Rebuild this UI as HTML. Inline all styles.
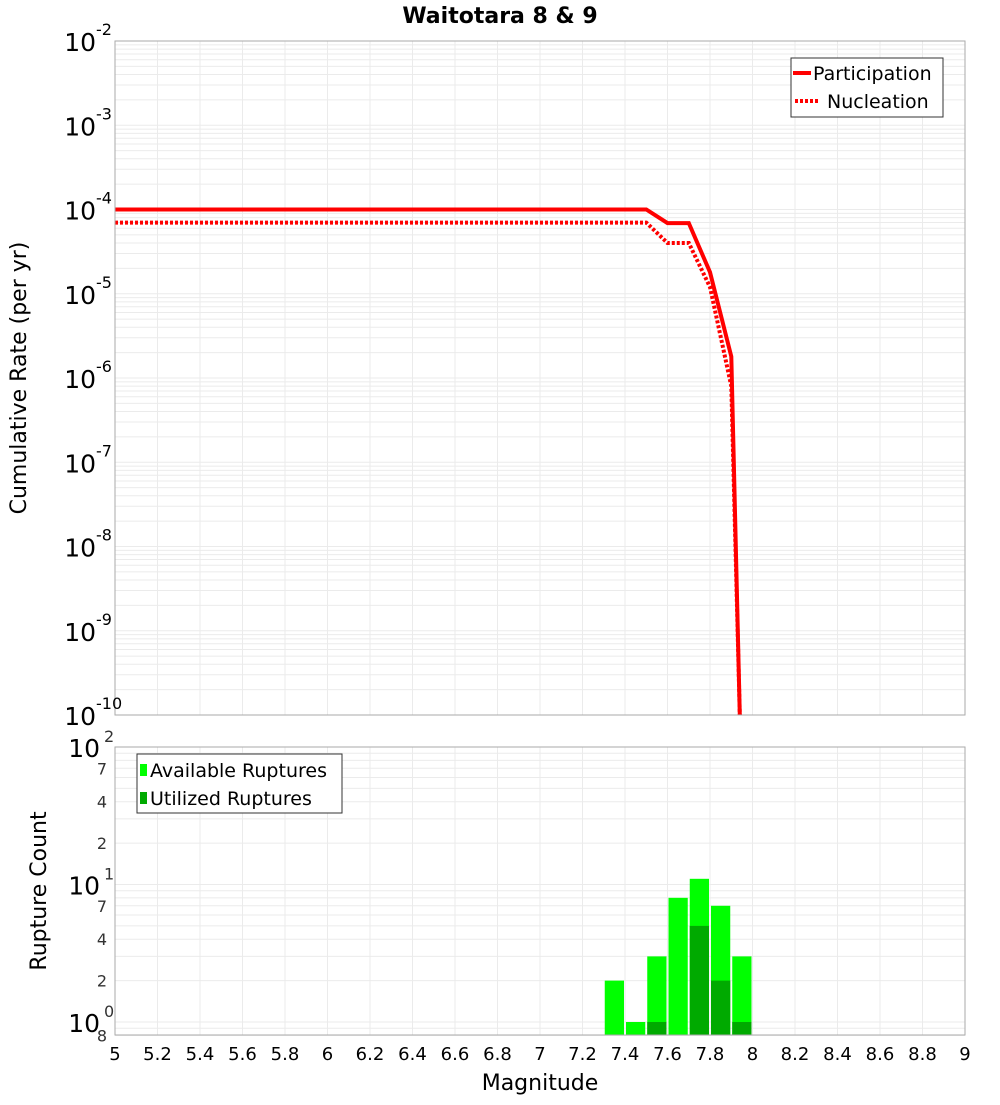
<!DOCTYPE html>
<html><head><meta charset="utf-8"><style>
body{margin:0;background:#fff;}
svg text{font-family:"DejaVu Sans","Liberation Sans",sans-serif;}
</style></head><body>
<svg id="chart" width="1000" height="1100" xmlns="http://www.w3.org/2000/svg">
<rect width="1000" height="1100" fill="#fff"/>
<text x="500" y="23" text-anchor="middle" font-size="22" font-weight="bold">Waitotara 8 &amp; 9</text>
<g id="top-grid"></g><g id="bot-grid"></g>
<g id="top-series"></g><g id="bars"></g>
<rect x="115" y="41" width="850" height="674" fill="none" stroke="#aaa"/>
<rect x="115" y="747" width="850" height="288" fill="none" stroke="#aaa"/>
<g id="labels"></g>
<text transform="translate(26,378) rotate(-90)" text-anchor="middle" font-size="22">Cumulative Rate (per yr)</text>
<text transform="translate(46,891) rotate(-90)" text-anchor="middle" font-size="22">Rupture Count</text>
<text x="540" y="1090" text-anchor="middle" font-size="22">Magnitude</text>
<g>
<rect x="791" y="58" width="152" height="59" fill="#fff" stroke="#333"/>
<line x1="793" y1="73" x2="811" y2="73" stroke="red" stroke-width="4"/>
<text x="813" y="80" font-size="19">Participation</text>
<line x1="795" y1="101" x2="820" y2="101" stroke="red" stroke-width="4" stroke-dasharray="3,2"/>
<text x="827" y="108" font-size="19">Nucleation</text>
</g>
<g>
<rect x="137" y="754" width="205" height="59" fill="#fff" stroke="#333"/>
<rect x="140" y="764" width="7" height="12" fill="#00ff00"/>
<text x="150" y="777" font-size="19">Available Ruptures</text>
<rect x="140" y="792" width="7" height="12" fill="#00aa00"/>
<text x="150" y="805" font-size="19">Utilized Ruptures</text>
</g>
</svg>
<script>
const mags=[5.0,5.1,5.2,5.3,5.4,5.5,5.6,5.7,5.8,5.9,6.0,6.1,6.2,6.3,6.4,6.5,6.6,6.7,6.8,6.9,7.0,7.1,7.2,7.3,7.4,7.5,7.6,7.7,7.8,7.9,7.94];
const participation=[1e-4,1e-4,1e-4,1e-4,1e-4,1e-4,1e-4,1e-4,1e-4,1e-4,1e-4,1e-4,1e-4,1e-4,1e-4,1e-4,1e-4,1e-4,1e-4,1e-4,1e-4,1e-4,1e-4,1e-4,1e-4,1e-4,6.9e-5,6.9e-5,1.8e-5,1.8e-6,1e-10];
const nucleation=[7e-5,7e-5,7e-5,7e-5,7e-5,7e-5,7e-5,7e-5,7e-5,7e-5,7e-5,7e-5,7e-5,7e-5,7e-5,7e-5,7e-5,7e-5,7e-5,7e-5,7e-5,7e-5,7e-5,7e-5,7e-5,7e-5,4e-5,4e-5,1.2e-5,8e-7,1e-10];
const barMags=[7.3,7.4,7.5,7.6,7.7,7.8,7.9];
const available=[2,1,3,8,11,7,3];
const utilized=[0,0,1,0,5,2,1];
const xTicks=["5","5.2","5.4","5.6","5.8","6","6.2","6.4","6.6","6.8","7","7.2","7.4","7.6","7.8","8","8.2","8.4","8.6","8.8","9"];
const topExps=[-2,-3,-4,-5,-6,-7,-8,-9,-10];

const NS="http://www.w3.org/2000/svg";
function mk(tag,attrs,parent){const e=document.createElementNS(NS,tag);for(const k in attrs)e.setAttribute(k,attrs[k]);parent.appendChild(e);return e;}
const X=m=>115+(m-5)*212.5;
const YT=v=>41+(-2-Math.log10(v))*84.25;
const YB=v=>747+(2-Math.log10(v))*137.5;
const tg=document.getElementById('top-grid'),bg=document.getElementById('bot-grid'),lab=document.getElementById('labels');
// top grid
for(let e=-10;e<-2;e++)for(let k=1;k<10;k++){const y=YT(k*Math.pow(10,e));const l=mk('line',{x1:115,x2:965,y1:y,y2:y,stroke:'#ebebeb'},tg);

}
[0.8,0.9,1,2,3,4,5,6,7,8,9,10,20,30,40,50,60,70,80,90].forEach(v=>{const y=YB(v);const l=mk('line',{x1:115,x2:965,y1:y,y2:y,stroke:'#ebebeb'},bg);

});
xTicks.forEach(t=>{const x=X(parseFloat(t));
const a=mk('line',{x1:x,x2:x,y1:41,y2:715,stroke:'#ebebeb'},tg);


const b=mk('line',{x1:x,x2:x,y1:747,y2:1035,stroke:'#ebebeb'},bg);


const tx=mk('text',{x:x,y:1060,'text-anchor':'middle','font-size':18},lab);tx.textContent=t;

});
// top y labels
topExps.forEach(e=>{const y=YT(Math.pow(10,e));
const t=mk('text',{x:96,y:y+10,'text-anchor':'end','font-size':25},lab);t.textContent='10';


const s=mk('text',{x:96,y:y-6,'font-size':16},lab);s.textContent=String(e);

});
// bottom y labels
[[100,'2'],[10,'1'],[1,'0']].forEach(([v,e])=>{const y=YB(v);
const t=mk('text',{x:100,y:y+10,'text-anchor':'end','font-size':25},lab);t.textContent='10';


const s=mk('text',{x:104,y:y-5,'font-size':16,fill:'#333'},lab);s.textContent=e;

});
[2,4,7,20,40,70,0.8].forEach(v=>{const y=YB(v);const t=mk('text',{x:107,y:y+6,'text-anchor':'end','font-size':16,fill:'#333'},lab);t.textContent=String(v<1?8:(v>=10?v/10:v));

});
// series
const ts=document.getElementById('top-series');
function path(vals){return vals.map((v,i)=>(i?'L':'M')+X(mags[i]).toFixed(1)+','+Math.min(715,YT(v)).toFixed(1)).join(' ');}
const p1=mk('path',{d:path(participation),fill:'none',stroke:'red','stroke-width':4},ts);


const p2=mk('path',{d:path(nucleation),fill:'none',stroke:'red','stroke-width':4,'stroke-dasharray':'3,2'},ts);


// bars
const bars=document.getElementById('bars');
barMags.forEach((m,i)=>{const x0=X(m)+1,x1=X(m+0.1)-1;
if(available[i]>0){const y=YB(available[i]);const r=mk('rect',{x:x0,y:y,width:x1-x0,height:1035-y,fill:'#00ff00'},bars);

}
if(utilized[i]>0){const y=YB(utilized[i]);const r=mk('rect',{x:x0,y:y,width:x1-x0,height:1035-y,fill:'#00aa00'},bars);

}});
</script>
</body></html>
